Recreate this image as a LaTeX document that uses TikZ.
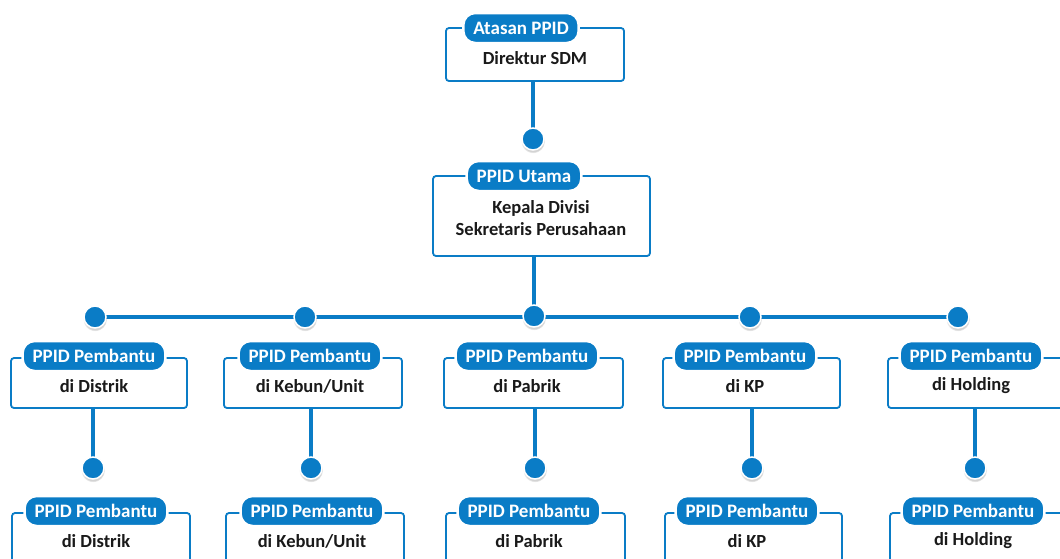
\documentclass[tikz,border=0pt]{standalone}
\usepackage{fontspec}
\setmainfont{Carlito}
\usetikzlibrary{shadows}
\definecolor{pblue}{HTML}{0A7CC6}
\definecolor{ptext}{HTML}{1A1A1A}
\tikzset{
  frame/.style={draw=pblue, line width=1.8pt, rounded corners=3pt, fill=white, inner sep=0pt},
  pill/.style={fill=pblue, draw=white, line width=2.5pt, rounded corners=12pt, text=white,
     font=\bfseries\fontsize{19}{21}\selectfont, minimum height=30pt, inner xsep=10pt, inner ysep=0pt},
  body/.style={text=ptext, font=\bfseries\fontsize{18.5}{22}\selectfont, align=center, inner sep=0pt},
  link/.style={draw=pblue, line width=4.5pt},
  dot/.style={circle, fill=pblue, draw=white, line width=1.5pt, minimum size=22pt, inner sep=0pt,
     circular drop shadow={shadow xshift=0pt, shadow yshift=-2pt, opacity=0.35}},
}
\begin{document}
\begin{tikzpicture}[x=1pt,y=-1pt]
\useasboundingbox (0,0) rectangle (1060,558);
\clip (0,0) rectangle (1060,558);
% boxes
\node[frame, minimum width=178pt, minimum height=53pt] (a) at (535,54.5) {};
\node[frame, minimum width=217pt, minimum height=80pt] (u) at (541.5,216) {};
\foreach \n/\x/\w in {1/99/176, 2/313/178, 3/533.5/179, 4/751.5/177, 5/977/178}{
  \node[frame, minimum width=\w pt, minimum height=50pt] (b\n) at (\x,383) {};
}
\foreach \n/\x/\w in {1/101/178, 2/315/178, 3/535.5/179, 4/753.5/177, 5/979/178}{
  \node[frame, minimum width=\w pt, minimum height=70pt] (c\n) at (\x,548) {};
}
% pills and texts
\node[pill] (ap) at (521,28) {Atasan PPID};
\node[body] (at) at (535,58) {Direktur SDM};
\node[pill] (up) at (524,176) {PPID Utama};
\node[body] (ut) at (541,218) {Kepala Divisi\\Sekretaris Perusahaan};
\foreach \n/\x/\t in {1/94/{di Distrik}, 2/310/{di Kebun/Unit}, 3/527/{di Pabrik}, 4/745/{di KP}, 5/971/{di Holding}}{
  \node[pill] (bp\n) at (\x,356) {PPID Pembantu};
  \node[body] (bt\n) at (\x,386) {\t};
}
\foreach \n/\x/\t in {1/96/{di Distrik}, 2/312/{di Kebun/Unit}, 3/529/{di Pabrik}, 4/747/{di KP}, 5/973/{di Holding}}{
  \node[pill] (cp\n) at (\x,511) {PPID Pembantu};
  \node[body] (ct\n) at (\x,541) {\t};
}
% dot positions
\coordinate (d0) at (533,139);
\coordinate (h1) at (95,317);
\coordinate (h2) at (305,317);
\coordinate (h3) at (534,316);
\coordinate (h4) at (750,317);
\coordinate (h5) at (958,317);
\coordinate (r1) at (93,468);
\coordinate (r2) at (311,468);
\coordinate (r3) at (535,468);
\coordinate (r4) at (752,468);
\coordinate (r5) at (975,468);
% connectors
\draw[link] (d0 |- a.south) -- (d0);
\draw[link] (h3 |- u.south) -- (h3);
\draw[link] (h1) -- (h5);
\foreach \n in {1,...,5}{
  \draw[link] (r\n |- b\n.south) -- (r\n);
}
% dots
\foreach \p in {d0,h1,h2,h3,h4,h5,r1,r2,r3,r4,r5}{
  \node[dot] (n\p) at (\p) {};
}
\end{tikzpicture}
\end{document}
